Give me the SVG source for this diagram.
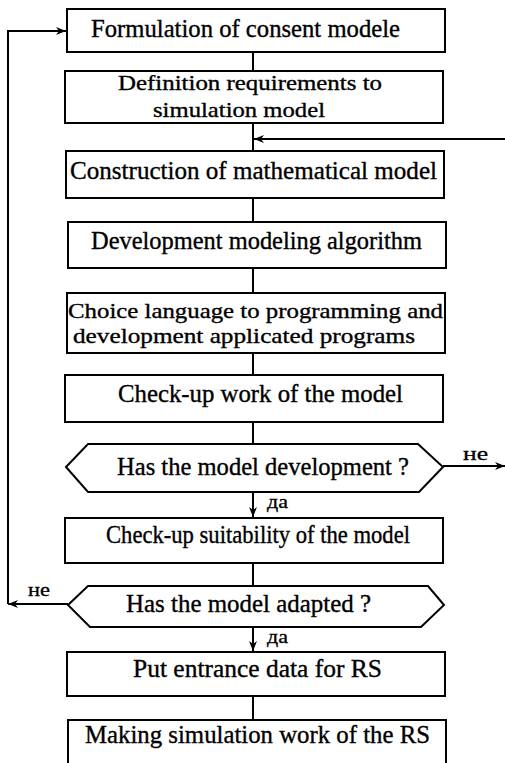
<svg xmlns="http://www.w3.org/2000/svg" width="505" height="763" viewBox="0 0 505 763">
<style>
.box{fill:#fff;stroke:#000;stroke-width:2}
.t{font-family:"Liberation Serif","Times New Roman",serif;font-size:25px;fill:#000;stroke:#000;stroke-width:0.35}
.s{font-size:22px}
.lbl{font-family:"Liberation Serif","Times New Roman",serif;font-size:18px;fill:#000;stroke:#000;stroke-width:0.3}
.c{fill:none;stroke:#000;stroke-width:2}
</style>
<defs>
<marker id="ah" viewBox="0 0 10 8" refX="10" refY="4" markerWidth="10" markerHeight="8" markerUnits="userSpaceOnUse" orient="auto">
<path d="M0,0 L10,4 L0,8 L3,4 Z" fill="#000"/>
</marker>
</defs>
<rect width="505" height="763" fill="#fff"/>
<g id="connectors">
<line class="c" x1="253" y1="52" x2="253" y2="71"/>
<line class="c" x1="253" y1="123" x2="253" y2="151"/>
<line class="c" x1="505" y1="139" x2="254" y2="139" marker-end="url(#ah)"/>
<line class="c" x1="253" y1="198" x2="253" y2="222"/>
<line class="c" x1="253" y1="268" x2="253" y2="293"/>
<line class="c" x1="253" y1="353" x2="253" y2="375"/>
<line class="c" x1="253" y1="422" x2="253" y2="444"/>
<line class="c" x1="253" y1="492" x2="253" y2="517" marker-end="url(#ah)"/>
<line class="c" x1="443" y1="466" x2="505" y2="466" marker-end="url(#ah)"/>
<line class="c" x1="253" y1="563" x2="253" y2="586"/>
<line class="c" x1="68" y1="604" x2="8" y2="604" marker-end="url(#ah)"/>
<polyline class="c" points="8,604 8,31 66,31" marker-end="url(#ah)"/>
<line class="c" x1="253" y1="627" x2="253" y2="651" marker-end="url(#ah)"/>
<line class="c" x1="253" y1="696" x2="253" y2="720"/>
<text class="lbl" x="463" y="460" textLength="25" lengthAdjust="spacingAndGlyphs">не</text>
<text class="lbl" x="28" y="596" textLength="22" lengthAdjust="spacingAndGlyphs">не</text>
<text class="lbl" x="267" y="508" textLength="21" lengthAdjust="spacingAndGlyphs">да</text>
<text class="lbl" x="267" y="643" textLength="21" lengthAdjust="spacingAndGlyphs">да</text>
</g>
<g id="n1">
<rect class="box" x="67" y="9" width="378" height="43"/>
<text class="t" x="91" y="37" textLength="309" lengthAdjust="spacingAndGlyphs">Formulation of consent modele</text>
</g>
<g id="n2">
<rect class="box" x="65" y="71" width="378" height="52"/>
<text class="t s" x="118" y="90" textLength="264" lengthAdjust="spacingAndGlyphs">Definition requirements to</text>
<text class="t s" x="153" y="117" textLength="172" lengthAdjust="spacingAndGlyphs">simulation model</text>
</g>
<g id="n3">
<rect class="box" x="66" y="151" width="378" height="47"/>
<text class="t" x="70" y="179" textLength="367" lengthAdjust="spacingAndGlyphs">Construction of mathematical model</text>
</g>
<g id="n4">
<rect class="box" x="68" y="222" width="378" height="46"/>
<text class="t" x="91" y="249" textLength="331" lengthAdjust="spacingAndGlyphs">Development modeling algorithm</text>
</g>
<g id="n5">
<rect class="box" x="67" y="293" width="378" height="60"/>
<text class="t s" x="68" y="318" textLength="375" lengthAdjust="spacingAndGlyphs">Choice language to programming and</text>
<text class="t s" x="73" y="343" textLength="342" lengthAdjust="spacingAndGlyphs">development applicated programs</text>
</g>
<g id="n6">
<rect class="box" x="65" y="375" width="378" height="47"/>
<text class="t" x="118" y="402" textLength="285" lengthAdjust="spacingAndGlyphs">Check-up work of the model</text>
</g>
<g id="d1">
<polygon class="box" points="66,467 88,444 418,444 443,467 419,492 88,492"/>
<text class="t" x="117" y="475" textLength="292" lengthAdjust="spacingAndGlyphs">Has the model development ?</text>
</g>
<g id="n7">
<rect class="box" x="65" y="518" width="378" height="45"/>
<text class="t" x="106" y="543" textLength="304" lengthAdjust="spacingAndGlyphs">Check-up suitability of the model</text>
</g>
<g id="d2">
<polygon class="box" points="68,605 88,586 428,586 444,605 421,627 90,627"/>
<text class="t" x="126" y="612" textLength="245" lengthAdjust="spacingAndGlyphs">Has the model adapted ?</text>
</g>
<g id="n8">
<rect class="box" x="67" y="652" width="378" height="44"/>
<text class="t" x="133" y="677" textLength="249" lengthAdjust="spacingAndGlyphs">Put entrance data for RS</text>
</g>
<g id="n9">
<rect class="box" x="68" y="720" width="378" height="60"/>
<text class="t" x="85" y="743" textLength="345" lengthAdjust="spacingAndGlyphs">Making simulation work of the RS</text>
</g>
</svg>
